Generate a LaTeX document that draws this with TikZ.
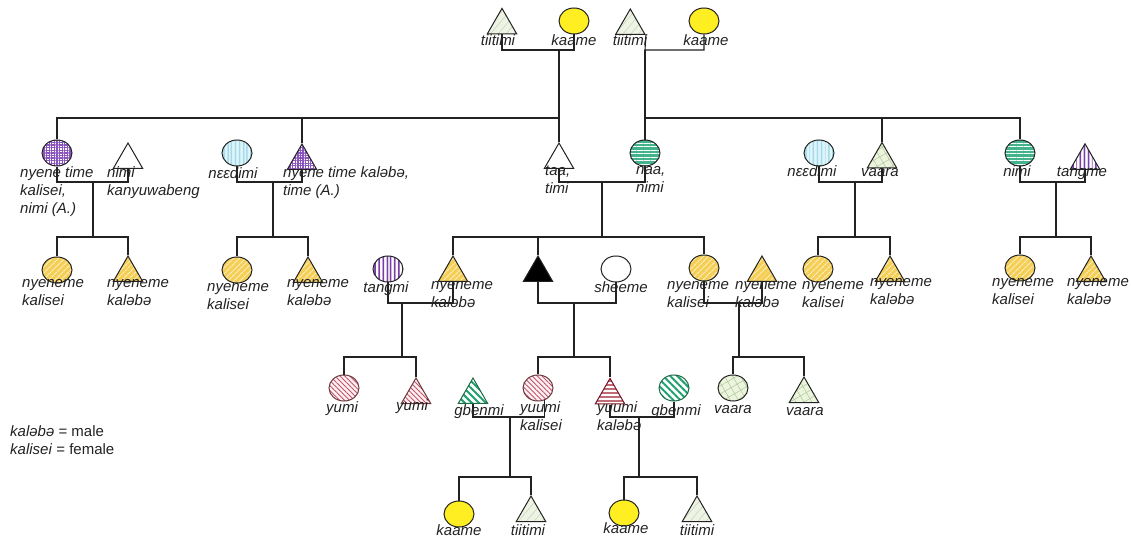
\documentclass[tikz,border=0pt]{standalone}
\usepackage{fontspec}
\setmainfont{Liberation Sans}
\usetikzlibrary{shapes.geometric,patterns,patterns.meta}
\definecolor{linec}{HTML}{222222}
\definecolor{kaameY}{HTML}{FFEE22}
\definecolor{tiiBg}{HTML}{EEF4E4}
\definecolor{tiiLn}{HTML}{C2CAB8}
\definecolor{purp}{HTML}{8B55BF}
\definecolor{blueBg}{HTML}{DDF6FB}
\definecolor{blueLn}{HTML}{45A5CC}
\definecolor{greenBg}{HTML}{42B38A}
\definecolor{yelBg}{HTML}{F4CE55}
\definecolor{yelLn}{HTML}{FCEFC4}
\definecolor{purpV}{HTML}{7A3FA6}
\definecolor{redBg}{HTML}{FDF0F1}
\definecolor{redLn}{HTML}{C0546A}
\definecolor{redBd}{HTML}{6A3A40}
\definecolor{gbLn}{HTML}{20A070}
\definecolor{gbBd}{HTML}{1D6A45}
\definecolor{hLn}{HTML}{9E1E30}
\definecolor{hBd}{HTML}{7A1020}
\definecolor{vaaBg}{HTML}{EAF5DC}
\definecolor{vaaLn}{HTML}{B2C4A0}
\begin{document}
\begin{tikzpicture}[x=1bp,y=-1bp,
  con/.style={draw=linec, line width=1.1bp},
  fem/.style={ellipse, draw=linec, line width=1bp, minimum width=30bp, minimum height=26bp, inner sep=0pt},
  mal/.style={regular polygon, regular polygon sides=3, draw=linec, line width=1bp, minimum size=34bp, inner sep=0pt, anchor=corner 1},
  lbl/.style={font=\fontsize{15bp}{18bp}\selectfont\itshape, text=linec, inner sep=0pt, anchor=north west, align=left, execute at begin node=\strut},
  clbl/.style={lbl, anchor=north, align=center},
  kaame/.style={fill=kaameY},
  wht/.style={fill=white},
  blk/.style={fill=black},
  tii/.style={preaction={fill=tiiBg}, pattern={Lines[angle=50,distance=6pt,line width=0.4pt]}, pattern color=tiiLn},
  pchk/.style={preaction={fill=white}, pattern={Hatch[angle=0,distance=2.6pt,line width=1.3pt]}, pattern color=purp},
  bluev/.style={preaction={fill=blueBg}, pattern={Lines[angle=90,distance=4pt,line width=0.8pt]}, pattern color=blueLn},
  greenh/.style={preaction={fill=greenBg}, pattern={Lines[angle=0,distance=3.5pt,line width=0.8pt]}, pattern color=white},
  yel/.style={preaction={fill=yelBg}, pattern={Lines[angle=45,distance=4pt,line width=1.1pt]}, pattern color=yelLn},
  purpv/.style={preaction={fill=white}, pattern={Lines[angle=90,distance=4pt,line width=1.8pt]}, pattern color=purpV},
  redd/.style={preaction={fill=redBg}, pattern={Lines[angle=-45,distance=3.5pt,line width=0.9pt]}, pattern color=redLn, draw=redBd},
  gbn/.style={preaction={fill=white}, pattern={Lines[angle=-45,distance=5pt,line width=2pt]}, pattern color=gbLn, draw=gbBd},
  hred/.style={preaction={fill=white}, pattern={Lines[angle=0,distance=4pt,line width=1.4pt]}, pattern color=hLn, draw=hBd},
  vaa/.style={preaction={fill=vaaBg}, pattern={Hatch[angle=30,distance=7pt,line width=0.5pt]}, pattern color=vaaLn}
]
\useasboundingbox (0,0) rectangle (1131,544);

% ---------- generation 1 ----------
\node[mal, tii] (t1) at (502,8) {};
\node[fem, kaame] (c1) at (574,21) {};
\node[mal, tii] (t2) at (630.3,8) {};
\node[fem, kaame] (c2) at (704,21) {};
\node[clbl] (lt1) at (498,33) {tiitimi};
\node[clbl] (lc1) at (574,33) {kaame};
\node[clbl] (lt2) at (630,33) {tiitimi};
\node[clbl] (lc2) at (706,33) {kaame};
\coordinate (mt1) at (559,50); \coordinate (st1) at (559,118);
\coordinate (mt2) at (645,50); \coordinate (st2) at (645,118);
\draw[con] (t1.south) |- (mt1) -| (c1.south);
\draw[con] (mt1) -- (st1);
\draw[con] (t2.corner 3) -- (mt2) -| (c2.south);
\draw[con] (mt2) -- (st2);

% ---------- generation 2 ----------
\node[fem, pchk] (a1) at (57,153) {};
\node[mal, wht] (a2) at (128,142) {};
\node[fem, bluev] (a3) at (237,153) {};
\node[mal, pchk] (a4) at (302,143) {};
\node[mal, wht] (a5) at (559,142) {};
\node[fem, greenh] (a6) at (645,153) {};
\node[fem, bluev] (a7) at (819,153) {};
\node[mal, vaa] (a8) at (882,142) {};
\node[fem, greenh] (a9) at (1020,153) {};
\node[mal, purpv] (a10) at (1085,142) {};
\draw[con] (a1.north) |- (st1) -- (a5.corner 1);
\draw[con] (a4.corner 1) -- (a4.corner 1 |- st1);
\draw[con] (st2) -- (a6.north);
\draw[con] (st2) -| (a9.north);
\draw[con] (a8.corner 1) -- (a8.corner 1 |- st2);

\node[lbl] (la1) at (20,166) {nyene time\\kalisei,\\nimi (A.)};
\node[lbl] (la2) at (107,166) {nimi\\kanyuwabeng};
\node[clbl] (la3) at (233,166) {nɛɛdimi};
\node[lbl] (la4) at (283,166) {nyene time kaləbə,\\time (A.)};
\node[lbl] (la5) at (545,166) {taa,\\timi};
\node[lbl] (la6) at (636,166) {naa,\\nimi};
\node[clbl] (la7) at (812,164) {nɛɛdimi};
\node[clbl] (la8) at (880,164) {vaara};
\node[clbl] (la9) at (1017,164) {nimi};
\node[clbl] (la10) at (1082,164) {tangme};

\coordinate (m2a) at (93,182);   \coordinate (s2a) at (93,237);
\coordinate (m2b) at (273,182);  \coordinate (s2b) at (273,237);
\coordinate (m2c) at (602,182);  \coordinate (s2c) at (602,237);
\coordinate (m2d) at (855,182);  \coordinate (s2d) at (855,237);
\coordinate (m2e) at (1056,182); \coordinate (s2e) at (1056,237);
\draw[con] (a1.south) |- (m2a) -| (a2.south);
\draw[con] (a3.south) |- (m2b) -| (a4.south);
\draw[con] (a5.south) |- (m2c) -| (a6.south);
\draw[con] (a7.south) |- (m2d) -| (a8.south);
\draw[con] (a9.south) |- (m2e) -| (a10.south);
\draw[con] (m2a) -- (s2a);
\draw[con] (m2b) -- (s2b);
\draw[con] (m2c) -- (s2c);
\draw[con] (m2d) -- (s2d);
\draw[con] (m2e) -- (s2e);

% ---------- generation 3 ----------
\node[fem, yel] (b1) at (57,270) {};
\node[mal, yel] (b2) at (128,255) {};
\node[fem, yel] (b3) at (237,270) {};
\node[mal, yel] (b4) at (308,256) {};
\node[fem, purpv] (b5) at (388,269) {};
\node[mal, yel] (b6) at (453,255) {};
\node[mal, blk] (b7) at (538,255) {};
\node[fem, wht] (b8) at (616,269) {};
\node[fem, yel] (b9) at (704,268) {};
\node[mal, yel] (b10) at (762,255) {};
\node[fem, yel] (b11) at (818,269) {};
\node[mal, yel] (b12) at (890,255) {};
\node[fem, yel] (b13) at (1020,268) {};
\node[mal, yel] (b14) at (1091,255) {};
\draw[con] (b1.north) |- (s2a) -| (b2.corner 1);
\draw[con] (b3.north) |- (s2b) -| (b4.corner 1);
\draw[con] (b6.corner 1) |- (s2c) -| (b9.north);
\draw[con] (b7.corner 1) -- (b7.corner 1 |- s2c);
\draw[con] (b11.north) |- (s2d) -| (b12.corner 1);
\draw[con] (b13.north) |- (s2e) -| (b14.corner 1);

\node[lbl] (lb1) at (22,279) {nyeneme\\kalisei};
\node[lbl] (lb2) at (107,279) {nyeneme\\kaləbə};
\node[lbl] (lb3) at (207,283) {nyeneme\\kalisei};
\node[lbl] (lb4) at (287,279) {nyeneme\\kaləbə};
\node[clbl] (lb5) at (386,280) {tangmi};
\node[lbl] (lb6) at (431,281) {nyeneme\\kaləbə};
\node[clbl] (lb8) at (621,280) {sheeme};
\node[lbl] (lb9) at (667,281) {nyeneme\\kalisei};
\node[lbl] (lb10) at (735,281) {nyeneme\\kaləbə};
\node[lbl] (lb11) at (802,281) {nyeneme\\kalisei};
\node[lbl] (lb12) at (870,278) {nyeneme\\kaləbə};
\node[lbl] (lb13) at (992,278) {nyeneme\\kalisei};
\node[lbl] (lb14) at (1067,278) {nyeneme\\kaləbə};

\coordinate (m3a) at (402,303); \coordinate (s3a) at (402,357);
\coordinate (m3b) at (574,303); \coordinate (s3b) at (574,357);
\coordinate (m3c) at (739,303); \coordinate (s3c) at (739,357);
\draw[con] (b5.south) |- (m3a) -| (b6.south);
\draw[con] (b7.south) |- (m3b) -| (b8.south);
\draw[con] (b9.south) |- (m3c) -| (b10.south);
\draw[con] (m3a) -- (s3a);
\draw[con] (m3b) -- (s3b);
\draw[con] (m3c) -- (s3c);

% ---------- generation 4 ----------
\node[fem, redd] (d1) at (344,388) {};
\node[mal, redd] (d2) at (416,377) {};
\node[mal, gbn] (d3) at (473,376) {};
\node[fem, redd] (d4) at (538,388) {};
\node[mal, hred] (d5) at (610,377) {};
\node[fem, gbn] (d6) at (674,388) {};
\node[fem, vaa] (d7) at (733,388) {};
\node[mal, vaa] (d8) at (804,376) {};
\draw[con] (d1.north) |- (s3a) -| (d2.corner 1);
\draw[con] (d4.north) |- (s3b) -| (d5.corner 1);
\draw[con] (d7.north) |- (s3c) -| (d8.corner 1);

\node[clbl] (ld1) at (342,400) {yumi};
\node[clbl] (ld2) at (412,398) {yumi};
\node[clbl] (ld3) at (479,403) {gbenmi};
\node[lbl] (ld4) at (520,401) {yuumi\\kalisei};
\node[lbl] (ld5) at (597,401) {yuumi\\kaləbə};
\node[clbl] (ld6) at (676,403) {gbenmi};
\node[clbl] (ld7) at (733,401) {vaara};
\node[clbl] (ld8) at (805,403) {vaara};

\coordinate (m4a) at (510,417); \coordinate (s4a) at (510,477);
\coordinate (m4b) at (639,417); \coordinate (s4b) at (639,477);
\draw[con] (d3.south) |- (m4a) -| (d4.-62);
\draw[con] (d5.south) |- (m4b) -| (d6.south);
\draw[con] (m4a) -- (s4a);
\draw[con] (m4b) -- (s4b);

% ---------- generation 5 ----------
\node[fem, kaame] (e1) at (459,514) {};
\node[mal, tii] (e2) at (531,495) {};
\node[fem, kaame] (e3) at (624,513) {};
\node[mal, tii] (e4) at (697,495) {};
\draw[con] (e1.north) |- (s4a) -| (e2.corner 1);
\draw[con] (e3.north) |- (s4b) -| (e4.corner 1);
\node[clbl] (le1) at (459,523) {kaame};
\node[clbl] (le2) at (528,523) {tiitimi};
\node[clbl] (le3) at (626,521) {kaame};
\node[clbl] (le4) at (697,523) {tiitimi};

% ---------- legend ----------
\node[lbl, font=\fontsize{15bp}{18bp}\selectfont] (leg) at (10,425) {\textit{kaləbə} = male\\\textit{kalisei} = female};
\end{tikzpicture}
\end{document}
